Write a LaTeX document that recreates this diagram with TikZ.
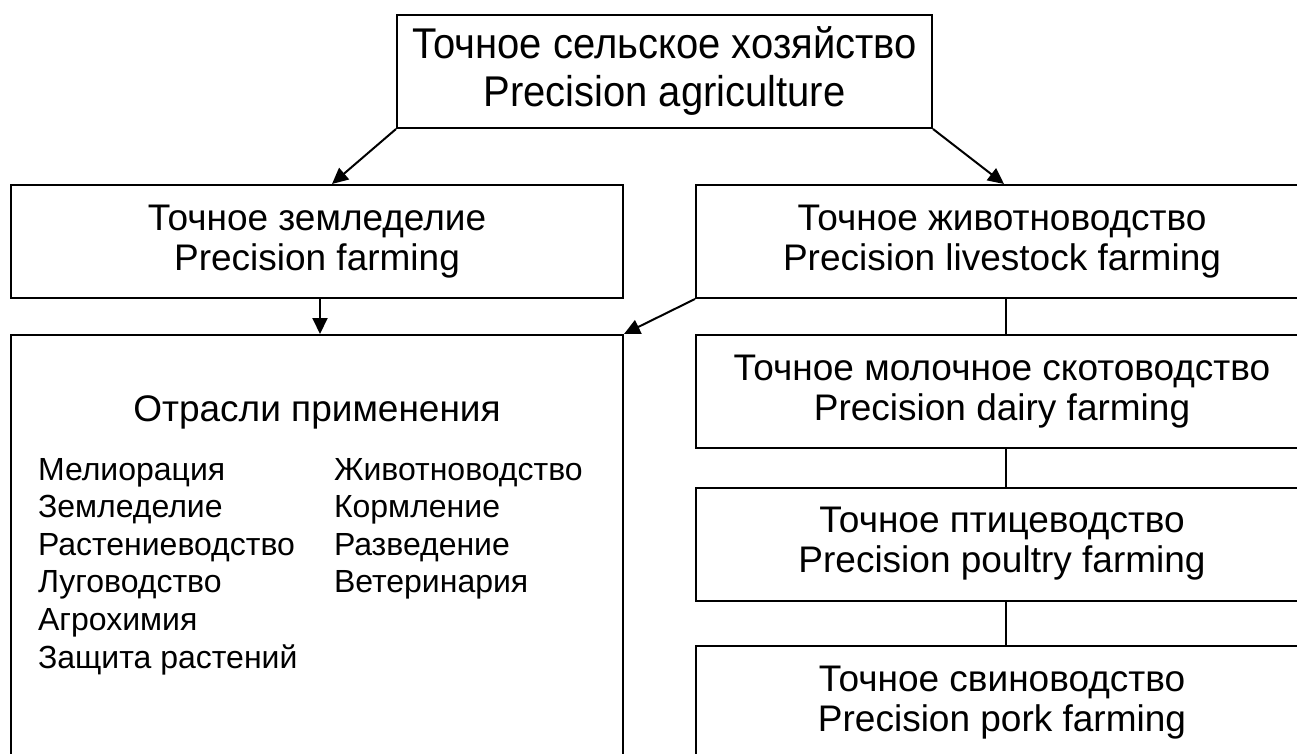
\documentclass[tikz,border=0pt]{standalone}
\usepackage{fontspec}
\setmainfont{Liberation Sans}
\newfontfamily\narrowsans[FakeStretch=0.93]{Liberation Sans}
\usetikzlibrary{arrows.meta}

\begin{document}
\begin{tikzpicture}[x=1pt,y=-1pt,line width=2pt]
\tikzstyle{every node}+=[inner sep=0pt]
\tikzstyle{box}=[draw,rectangle,minimum width=612pt,minimum height=113pt,align=center,font=\fontsize{37}{40}\selectfont]
\tikzstyle{item}=[anchor=base west,font=\fontsize{32}{37}\selectfont]
\tikzstyle{arr}=[-{Triangle[length=16pt,width=15pt]}]
\clip (0,0) rectangle (1297,754);
\node [box,minimum width=535pt,font=\narrowsans\fontsize{43}{48}\selectfont] (agri) at (664.5,71.5) {Точное сельское хозяйство\\Precision agriculture};
\node [box] (farm) at (317,241.5) {Точное земледелие\\Precision farming};
\node [box] (live) at (1002,241.5) {Точное животноводство\\Precision livestock farming};
\node [box,minimum height=460pt,anchor=north] (apps) at (317,334) {};
\node [font=\fontsize{37}{40}\selectfont] (appt) at (317,412) {Отрасли применения};
\node [box] (dairy) at (1002,391.5) {Точное молочное скотоводство\\Precision dairy farming};
\node [box] (poul) at (1002,544) {Точное птицеводство\\Precision poultry farming};
\node [box] (pork) at (1002,702.5) {Точное свиноводство\\Precision pork farming};
% left column
\node [item] (m1) at (37,480) {Мелиорация};
\node [item] (m2) at (37,517.6) {Земледелие};
\node [item] (m3) at (37,555.2) {Растениеводство};
\node [item] (m4) at (37,592.8) {Луговодство};
\node [item] (m5) at (37,630.4) {Агрохимия};
\node [item] (m6) at (37,668) {Защита растений};
% right column
\node [item] (z1) at (333,480) {Животноводство};
\node [item] (z2) at (333,517.6) {Кормление};
\node [item] (z3) at (333,555.2) {Разведение};
\node [item] (z4) at (333,592.8) {Ветеринария};
% connectors
\draw [arr] (agri.south west) -- ([xshift=15pt]farm.north);
\draw [arr] (agri.south east) -- ([xshift=2pt]live.north);
\draw [arr] ([xshift=3pt]farm.south) -- ([xshift=3pt]apps.north);
\draw [arr] (live.south west) -- (apps.north east);
\draw ([xshift=4pt]live.south) -- ([xshift=4pt]dairy.north);
\draw ([xshift=4pt]dairy.south) -- ([xshift=4pt]poul.north);
\draw ([xshift=4pt]poul.south) -- ([xshift=4pt]pork.north);
\end{tikzpicture}
\end{document}
